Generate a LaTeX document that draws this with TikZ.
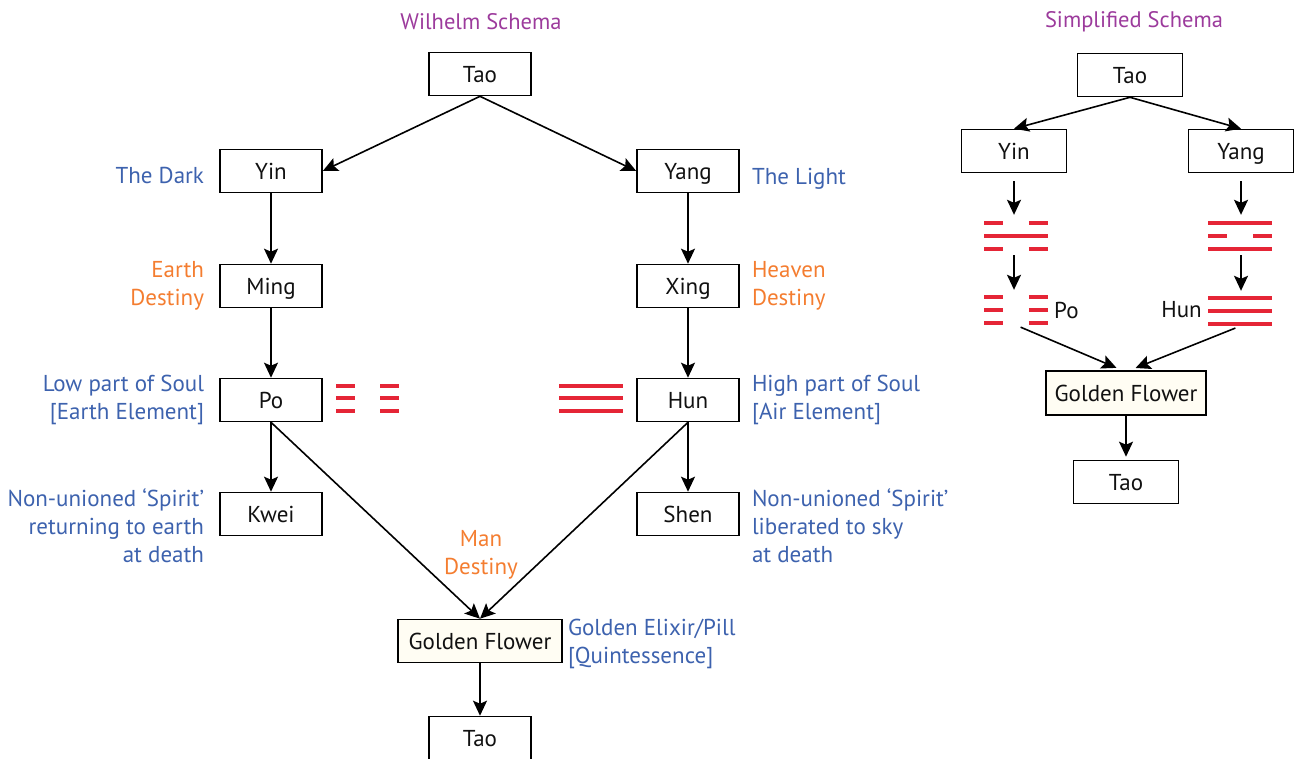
\documentclass[tikz,border=0pt]{standalone}
\usepackage{fontspec}
\setmainfont{PT Sans}
\usetikzlibrary{arrows.meta,positioning,calc}
\definecolor{ink}{HTML}{111111}
\definecolor{note}{HTML}{3D62AE}
\definecolor{dest}{HTML}{F47D30}
\definecolor{head}{HTML}{9C3B9C}
\definecolor{trig}{HTML}{E52536}
\definecolor{cream}{HTML}{FFFDF3}
\tikzset{
  blk/.style={
    draw=black, line width=1.6pt, fill=white, inner sep=0pt,
    minimum width=102pt, minimum height=43pt, text height=16pt, text depth=0pt,
    font=\fontsize{23}{28}\selectfont, text=ink},
  gf/.style={blk, fill=cream, minimum width=164pt},
  fl/.style={-{Stealth[length=15pt,width=14pt,inset=3pt]}, draw=black, line width=1.6pt},
  lbl/.style={font=\fontsize{23}{28}\selectfont, text=note, inner sep=0pt},
  dst/.style={lbl, text=dest},
  ttl/.style={font=\fontsize{22.5}{26}\selectfont, text=head, inner sep=0pt},
  gua/.style={minimum width=64pt, minimum height=30pt, inner sep=0pt},
  yao/.style={draw=trig, line width=3.5pt},
}
% one line of a trigram: left x, y, width, 1 = solid / 0 = broken
\newcommand{\yaoline}[4]{%
  \ifnum#4=1\relax
    \draw[yao] (#1,#2) -- ++(#3,0);
  \else
    \draw[yao] (#1,#2) -- ++(0.3*#3,0) (#1+0.7*#3,#2) -- ++(0.3*#3,0);
  \fi}

\begin{document}
\begin{tikzpicture}[x=1pt, y=-1pt, node distance=15pt]
\useasboundingbox (0,0) rectangle (1295,758);

% =====================================================================
\node[ttl] (wtitle) at (481,22) {Wilhelm Schema};
\node[blk] (tao)    at (480,74)  {Tao};
\node[blk] (yin)    at (271,171) {Yin};
\node[blk] (yang)   at (688,171) {Yang};
\node[blk] (ming)   at (271,286) {Ming};
\node[blk] (xing)   at (688,286) {Xing};
\node[blk] (po)     at (271,400) {Po};
\node[blk] (hun)    at (688,400) {Hun};
\node[blk] (kwei)   at (271,514) {Kwei};
\node[blk] (shen)   at (688,514) {Shen};
\node[gf]  (gold)   at (480,641) {Golden Flower};
\node[blk] (taoend) at (480,738) {Tao};

\draw[fl] (tao.south) -- (yin.east);
\draw[fl] (tao.south) -- (yang.west);
\foreach \a/\b in {yin/ming, ming/po, po/kwei, yang/xing, xing/hun, hun/shen, gold/taoend}
  \draw[fl] (\a) -- (\b);
\draw[fl] (po.south)  -- (gold.north);
\draw[fl] (hun.south) -- (gold.north);

\node[lbl, left=of yin, yshift=-4pt]   (dark)  {The Dark};
\node[dst, left=of ming, align=right]  (earth) {Earth\\Destiny};
\node[lbl, left=of po, align=right]    (low)   {Low part of Soul\\{[}Earth Element{]}};
\node[lbl, left=of kwei, align=right, yshift=-12pt] (ret)
  {Non-unioned `Spirit'\\returning to earth\\at death};
\node[lbl, right=12pt of yang, yshift=-8pt] (light) {The Light};
\node[dst, right=12pt of xing, align=left]  (heav)  {Heaven\\Destiny};
\node[lbl, right=12pt of hun, align=left]   (high)  {High part of Soul\\{[}Air Element{]}};
\node[lbl, right=12pt of shen, align=left, yshift=-12pt] (lib)
  {Non-unioned `Spirit'\\liberated to sky\\at death};
\node[dst, align=center] (man) at (481,555) {Man\\Destiny};
\node[lbl, right=5pt of gold, align=left, yshift=-3pt] (elix)
  {Golden Elixir/Pill\\{[}Quintessence{]}};

% trigrams beside Po and Hun
\node[gua] (kunl)  at (367,398) {};
\node[gua] (qianl) at (591,398) {};
\foreach \y in {386,398,411} {
  \yaoline{336}{\y}{63}{0}
  \yaoline{559}{\y}{64}{1}
}

% =====================================================================
\node[ttl] (stitle) at (1134,22) {Simplified Schema};
\node[blk, minimum width=105pt] (stao)    at (1130,75)  {Tao};
\node[blk, minimum width=105pt] (syin)    at (1014,151) {Yin};
\node[blk, minimum width=105pt] (syang)   at (1241,151) {Yang};
\node[gf, minimum width=160pt, minimum height=44pt] (sgold) at (1126,393) {Golden Flower};
\node[blk, minimum width=105pt] (staoend) at (1126,482) {Tao};

\node[gua] (kan)  at (1016,236) {};
\node[gua] (kunr) at (1016,310) {};
\node[gua] (li)   at (1240,236) {};
\node[gua] (qian) at (1240,311) {};
\foreach \y/\k in {223/0, 236/1, 249/0} {\yaoline{984}{\y}{64}{\k}}
\foreach \y in {297,310,323}            {\yaoline{984}{\y}{64}{0}}
\foreach \y/\k in {223/1, 236/0, 249/1} {\yaoline{1208}{\y}{64}{\k}}
\foreach \y in {298,311,324}            {\yaoline{1208}{\y}{64}{1}}

\node[anchor=west, font=\fontsize{23}{28}\selectfont, text=ink, inner sep=0pt]
  (spo) at (1054,310) {Po};
\node[anchor=east, font=\fontsize{23}{28}\selectfont, text=ink, inner sep=0pt]
  (shun) at (1202,310) {Hun};

\draw[fl] (stao.south) -- (syin.north);
\draw[fl] (stao.south) -- (syang.north);
\draw[fl, shorten <=8pt, shorten >=6pt] (syin.south) -- (syin.south |- kan.north);
\draw[fl, shorten <=8pt, shorten >=6pt] (syang.south) -- (syang.south |- li.north);
\draw[fl, shorten <=4pt, shorten >=5pt] (syin.south |- kan.south) -- (syin.south |- kunr.north);
\draw[fl, shorten <=4pt, shorten >=5pt] (syang.south |- li.south) -- (syang.south |- qian.north);
\draw[fl, shorten <=5pt, shorten >=6pt] (kunr.south) -- ([xshift=-4pt]sgold.north);
\draw[fl, shorten <=5pt, shorten >=6pt] (qian.south) -- ([xshift=4pt]sgold.north);
\draw[fl, shorten >=3pt] (sgold) -- (staoend);

\end{tikzpicture}
\end{document}
